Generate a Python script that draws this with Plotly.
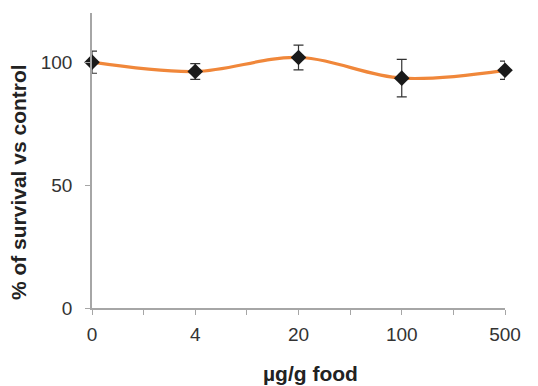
import plotly.graph_objects as go

categories = ["0", "4", "20", "100", "500"]
survival = [100.0, 96.2, 101.9, 93.5, 96.7]
errors = [4.5, 3.2, 5.0, 7.6, 3.7]
y_ticks = [0, 50, 100]

x_pos = list(range(len(categories)))
FONT = "Liberation Sans, Arial, sans-serif"

fig = go.Figure()
fig.add_trace(go.Scatter(
    x=x_pos, y=survival,
    mode="lines+markers",
    line=dict(color="#F0873A", width=3.2, shape="spline", smoothing=1.0),
    marker=dict(symbol="diamond", size=12, color="#1a1a1a"),
    error_y=dict(type="data", array=errors, visible=True, color="#333333",
                 thickness=1.2, width=5),
    cliponaxis=False,
))

fig.update_layout(
    width=538, height=386,
    margin=dict(l=92, r=33, t=13, b=78),
    paper_bgcolor="white", plot_bgcolor="white",
    showlegend=False,
    font=dict(family=FONT, color="#333333"),
)
fig.update_xaxes(
    range=[0, len(categories) - 1],
    tickvals=x_pos, ticktext=categories,
    showline=True, linecolor="#A6A6A6", linewidth=1.5,
    ticks="outside", ticklen=5, tickcolor="#A6A6A6",
    minor=dict(dtick=0.5, ticks="outside", ticklen=5, tickcolor="#A6A6A6"),
    showgrid=False, zeroline=False,
    ticklabelstandoff=3,
    tickfont=dict(size=19, color="#333333"),
)
fig.update_yaxes(
    range=[0, 120],
    tickvals=y_ticks,
    showline=True, linecolor="#A6A6A6", linewidth=1.5,
    ticks="outside", ticklen=5, tickcolor="#A6A6A6",
    showgrid=False, zeroline=False,
    ticklabelstandoff=9,
    tickfont=dict(size=19, color="#333333"),
)
fig.add_annotation(
    text="<b>% of survival vs control</b>", textangle=-90,
    xref="paper", yref="paper", x=-0.179, y=0.427,
    showarrow=False, font=dict(size=21, color="#222222", family=FONT),
    xanchor="center", yanchor="middle",
)
fig.add_annotation(
    text="<b>µg/g food</b>",
    xref="paper", yref="paper", x=0.53, y=-0.223,
    showarrow=False, font=dict(size=21, color="#222222", family=FONT),
    xanchor="center", yanchor="middle",
)
fig.write_html(
    "out.html",
    config={"displayModeBar": False},
    post_script="document.body.style.margin='0';document.body.style.overflow='hidden';",
)
